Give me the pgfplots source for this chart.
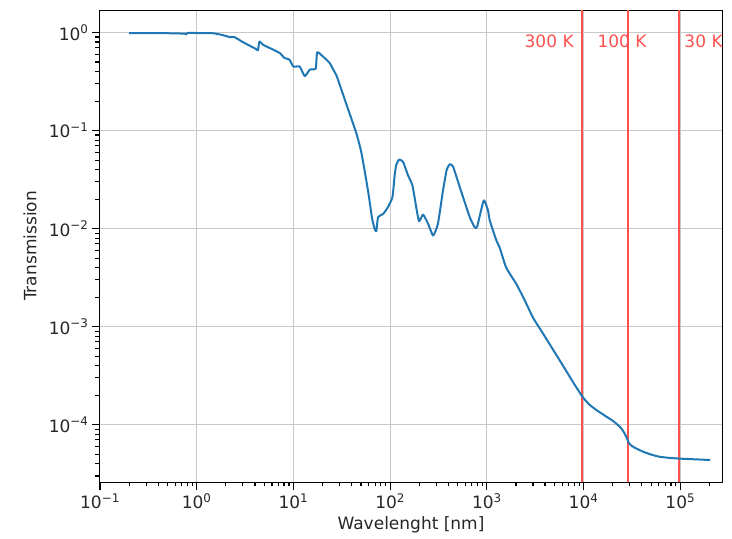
\documentclass[border=0pt]{standalone}
\usepackage{fontspec}
\setmainfont{DejaVu Sans}
\usepackage{pgfplots}
\pgfplotsset{compat=1.18}
\definecolor{mplblue}{HTML}{1F77B4}
\definecolor{gridgray}{HTML}{C8C8C8}
\definecolor{lred}{HTML}{FF5050}
\begin{document}
\begin{tikzpicture}
\begin{axis}[
  name=ax,
  scale only axis,
  width=622pt, height=472pt,
  xmode=log, ymode=log,
  xmin=0.1, xmax=2.7e5,
  ymin=2.6e-5, ymax=1.7,
  xmajorgrids=true, ymajorgrids=true,
  major grid style={gridgray, line width=1pt},
  axis line style={black, line width=1pt},
  xtick align=outside, ytick align=outside,
  xtick pos=left, ytick pos=left,
  major tick length=8pt, minor tick length=4.5pt,
  xtick style={draw=black, line width=1.2pt},
  ytick style={draw=black, line width=1.2pt},
  xtick={0.1,1,10,100,1000,10000,100000},
  minor xtick={0.2,0.3,0.4,0.5,0.6,0.7,0.8,0.9,2,3,4,5,6,7,8,9,20,30,40,50,60,70,80,90,200,300,400,500,600,700,800,900,2000,3000,4000,5000,6000,7000,8000,9000,20000,30000,40000,50000,60000,70000,80000,90000,200000},
  xticklabels={10\textsuperscript{−1},10\textsuperscript{0},10\textsuperscript{1},10\textsuperscript{2},10\textsuperscript{3},10\textsuperscript{4},10\textsuperscript{5}},
  ytick={1e-4,1e-3,1e-2,1e-1,1},
  minor ytick={3e-5,4e-5,5e-5,6e-5,7e-5,8e-5,9e-5,2e-4,3e-4,4e-4,5e-4,6e-4,7e-4,8e-4,9e-4,2e-3,3e-3,4e-3,5e-3,6e-3,7e-3,8e-3,9e-3,0.02,0.03,0.04,0.05,0.06,0.07,0.08,0.09,0.2,0.3,0.4,0.5,0.6,0.7,0.8,0.9},
  yticklabels={10\textsuperscript{−4},10\textsuperscript{−3},10\textsuperscript{−2},10\textsuperscript{−1},10\textsuperscript{0}},
  every tick label/.append style={font=\fontsize{17}{20}\selectfont, text=black!85},
  label style={font=\fontsize{17}{20}\selectfont, text=black!85},
  xlabel={Wavelenght [nm]},
  ylabel={Transmission},
  xlabel style={at={(axis description cs:0.5,-0.091)}, anchor=center},
  ylabel style={at={(axis description cs:-0.1125,0.5)}, anchor=center},
]
\addplot[lred, line width=1.6pt] coordinates {(9660,2.6e-5) (9660,1.7)};
\addplot[lred, line width=1.6pt] coordinates {(28980,2.6e-5) (28980,1.7)};
\addplot[lred, line width=1.6pt] coordinates {(96600,2.6e-5) (96600,1.7)};
\addplot[mplblue, line width=2pt, line join=round, smooth, tension=0.3] coordinates {
(0.2,0.99) (0.5,0.985) (0.76,0.975) (0.78,0.96) (0.80,0.99) (1.0,0.99)
(1.46,0.985) (1.8,0.95) (2.2,0.90) (2.45,0.90) (3.0,0.80) (4.1,0.68)
(4.3,0.66) (4.45,0.81) (4.85,0.75) (5.8,0.69) (7.2,0.62) (8.1,0.55)
(9.1,0.53) (10.0,0.45) (11.6,0.45) (13.1,0.36) (14.8,0.42) (17.0,0.43)
(17.6,0.63) (20.2,0.57) (23.7,0.49) (25.5,0.43) (28,0.36) (31,0.27) (35,0.19)
(40,0.13) (45,0.092) (50,0.062) (55,0.037) (60,0.022) (65,0.0128)
(69,0.0100) (72,0.0094) (75,0.0131) (84.5,0.0141) (95,0.0166) (105.7,0.021)
(111.7,0.036) (116,0.045) (123.6,0.0506) (136,0.048) (153,0.035) (170,0.0276)
(186,0.0166) (199,0.0119) (219,0.0139) (247,0.0112) (278,0.0085) (312,0.0112)
(352,0.0245) (385,0.040) (413,0.0453) (447,0.043) (525,0.0265) (665,0.0131)
(750,0.0103) (794,0.0105) (929,0.0194) (1028,0.0153) (1072,0.0121) (1259,0.0075)
(1358,0.0064) (1585,0.0040) (2023,0.00271) (2500,0.0018) (3006,0.00123) (3700,8.9e-4)
(4467,6.6e-4) (5500,4.75e-4) (6653,3.5e-4) (8000,2.6e-4) (9886,1.89e-4)
(11500,1.6e-4) (13580,1.41e-4) (16500,1.24e-4) (20180,1.09e-4) (23500,9.6e-5)
(25700,8.6e-5) (28000,7.3e-5) (29700,6.4e-5) (33000,5.9e-5) (41200,5.3e-5)
(50000,4.95e-5) (61400,4.7e-5) (80000,4.57e-5) (100000,4.5e-5) (150000,4.42e-5) (204000,4.36e-5)
};
\node[anchor=east, text=lred, font=\fontsize{17}{20}\selectfont, inner sep=0pt] at (axis cs:7940,0.81) {300 K};
\node[anchor=west, text=lred, font=\fontsize{17}{20}\selectfont, inner sep=0pt] at (axis cs:13900,0.81) {100 K};
\node[anchor=west, text=lred, font=\fontsize{17}{20}\selectfont, inner sep=0pt] at (axis cs:110000,0.81) {30 K};
\end{axis}
\path ([xshift=-100pt,yshift=-56pt]ax.south west) rectangle ([xshift=10pt,yshift=10pt]ax.north east);
\end{tikzpicture}
\end{document}
